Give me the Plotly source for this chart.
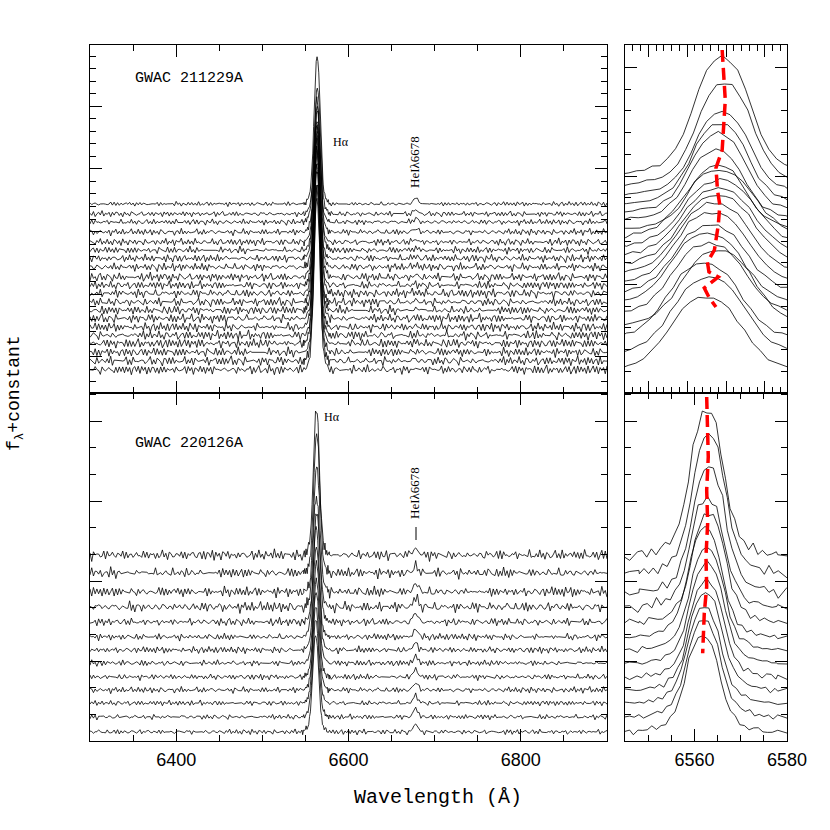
import plotly.graph_objects as go

# ---------------------------------------------------------------- sampling
GRID_START, GRID_END, GRID_STEP = 6300, 6900, 2
LINE_OFFSETS = list(range(-15, 16))          # 1 A steps around H-alpha
HEI_WAVE = 6678
HEI_OFFSETS = [-6, -4, -2, 0, 2, 4, 6]
HEI_SHAPE = [0.1, 0.3, 0.7, 1.0, 0.7, 0.3, 0.1]

# normalised H-alpha profiles (at LINE_OFFSETS)
HA_NARROW = [0.0, 0.005, 0.012, 0.02, 0.03, 0.045, 0.06, 0.09, 0.14, 0.22, 0.34, 0.52, 0.73, 0.88, 0.97,
             1.0,
             0.97, 0.88, 0.73, 0.52, 0.34, 0.22, 0.14, 0.09, 0.06, 0.045, 0.03, 0.02, 0.012, 0.005, 0.0]
HA_WIDE = [0.0, 0.01, 0.02, 0.03, 0.05, 0.08, 0.12, 0.18, 0.27, 0.39, 0.54, 0.70, 0.84, 0.93, 0.98,
           1.0,
           0.98, 0.93, 0.84, 0.70, 0.54, 0.39, 0.27, 0.18, 0.12, 0.08, 0.05, 0.03, 0.02, 0.01, 0.0]

# continuum scatter, estimated by eye (relative units)
NOISE_A = [0.3, -0.5, 0.8, -0.2, 0.1, -0.9, 0.6, 0.2, -0.4, 0.7,
           -0.7, 0.0, 0.5, -0.3, 0.9, -0.6, 0.2, -0.1, 0.4, -0.8,
           0.6, -0.2, 0.3, 0.8, -0.5, 0.1, -0.7, 0.5, -0.1, 0.2,
           -0.6, 0.9, -0.3, 0.4, -0.9, 0.3, 0.0, 0.6, -0.4, 0.2,
           -0.5, 0.7, -0.2, 0.1, -0.8, 0.4, 0.6, -0.3, 0.2, -0.6,
           0.8, -0.1, 0.3, -0.7, 0.5, -0.4, 0.1, 0.7, -0.5, 0.2, -0.3]
NOISE_B = [-0.4, 0.2, 0.6, -0.3, -0.7, 0.4, 0.1, -0.5, 0.8, -0.2,
           0.3, -0.6, 0.0, 0.5, -0.8, 0.3, -0.1, 0.7, -0.4, 0.2,
           -0.3, 0.6, -0.7, 0.1, 0.4, -0.2, 0.9, -0.5, 0.2, -0.1,
           0.5, -0.6, 0.3, -0.4, 0.7, 0.0, -0.3, 0.4, -0.8, 0.6,
           -0.2, 0.1, -0.5, 0.3, 0.8, -0.6, 0.2]

# ---------------------------------------------------------------- GWAC 211229A, full range (top to bottom)
TL_LEVEL = [17.2, 16.4, 15.75, 14.95, 14.15, 13.5, 12.85, 12.15, 11.35, 10.7,
            10.05, 9.35, 8.7, 8.05, 7.35, 6.7, 6.05, 5.35, 4.65, 3.95]
TL_PEAK = [11.8, 10.1, 9.8, 9.7, 9.7, 11.5, 10.6, 10.9, 12.2, 11.5,
           12.6, 12.2, 12.7, 12.6, 14.5, 13.2, 14.3, 13.4, 13.7, 13.6]
TL_CENTRE = [6563.5, 6563.8, 6563.2, 6563.6, 6563.4, 6563.9, 6563.1, 6563.5, 6563.7, 6563.3,
             6563.6, 6563.0, 6563.4, 6563.8, 6563.2, 6563.5, 6563.1, 6563.6, 6563.3, 6563.4]
TL_HEI = [0.5, 0.35, 0.3, 0.3, 0.25, 0.2, 0.2, 0.15, 0.15, 0.1,
          0.1, 0.1, 0.1, 0.1, 0.1, 0.1, 0.1, 0.1, 0.1, 0.1]
TL_NOISE = [0.13, 0.15, 0.16, 0.18, 0.19, 0.2, 0.21, 0.22, 0.23, 0.23,
            0.24, 0.24, 0.25, 0.25, 0.25, 0.26, 0.26, 0.26, 0.26, 0.26]
TL_SHIFT = [0, 7, 13, 22, 31, 5, 18, 27, 40, 11, 3, 35, 24, 16, 9, 44, 29, 38, 2, 20]

# ---------------------------------------------------------------- GWAC 211229A, H-alpha zoom
TR_LEVEL = [10.05, 9.54, 9.08, 8.66, 8.29, 7.93, 7.51, 7.14, 6.73, 6.31,
            5.90, 5.44, 4.98, 4.52, 4.06, 3.55, 3.04, 2.44, 1.75, 0.97]
TR_PEAK = [5.44, 4.75, 3.87, 3.78, 3.69, 3.27, 3.0, 3.13, 3.09, 3.13,
           3.23, 3.32, 3.36, 3.23, 3.32, 3.36, 3.55, 3.55, 3.59, 3.46]
TR_CENTRE = [6564.5, 6564.8, 6564.5, 6564.2, 6564.0, 6563.7, 6563.9, 6564.1, 6564.2, 6564.0,
             6563.9, 6563.5, 6563.2, 6563.0, 6562.6, 6562.8, 6564.0, 6562.2, 6562.8, 6562.4]
TR_WIDE = [0, 0, 0, 0, 0, 0, 0, 1, 1, 1, 1, 1, 1, 1, 1, 1, 1, 1, 1, 1]
TR_SHIFT = [3, 17, 8, 29, 12, 41, 6, 23, 35, 14, 1, 27, 19, 45, 10, 33, 4, 38, 21, 15]
TR_RED_X = [6564.5, 6564.9, 6564.5, 6563.7, 6563.9, 6564.2, 6564.0, 6563.5, 6562.6, 6562.8,
            6564.0, 6562.2, 6562.8, 6563.7]
TR_RED_Y = [15.81, 13.50, 11.20, 10.37, 9.35, 8.66, 7.74, 6.59, 6.04, 5.58,
            5.35, 4.84, 4.42, 3.96]

# ---------------------------------------------------------------- GWAC 220126A (top to bottom)
BL_LEVEL = [6.97, 6.30, 5.59, 5.02, 4.46, 3.90, 3.41, 2.92, 2.40, 1.91, 1.42, 0.90, 0.34]
BL_PEAK = [5.44, 5.21, 4.69, 4.12, 4.09, 4.12, 3.86, 3.79, 3.64, 3.67, 3.60, 3.64, 3.64]
BL_CENTRE = [6562.7, 6563.1, 6563.1, 6562.8, 6563.1, 6562.3, 6562.7, 6562.7, 6562.6, 6562.4,
             6562.1, 6562.0, 6561.8]
BL_HEI = [0.3, 0.3, 0.35, 0.4, 0.35, 0.3, 0.3, 0.25, 0.3, 0.3, 0.3, 0.35, 0.3]
BL_NOISE = [0.14, 0.14, 0.14, 0.14, 0.1, 0.09, 0.09, 0.08, 0.08, 0.08, 0.07, 0.07, 0.07]
BL_SHIFT = [4, 19, 33, 8, 26, 14, 42, 1, 37, 22, 11, 30, 17]
BR_RED_X = [6562.65, 6562.99, 6562.65, 6562.86, 6562.49, 6562.65, 6562.13, 6561.78]
BR_RED_Y = [12.90, 10.66, 9.41, 8.17, 6.91, 5.79, 4.80, 3.29]


def scatter_at(i, shift):
    return NOISE_A[(i + shift) % len(NOISE_A)] + NOISE_B[(i + 2 * shift + 5) % len(NOISE_B)]


def full_spectrum(level, peak, centre, hei, amp, shift, shape):
    pts = {}
    for w in range(GRID_START, GRID_END + 1, GRID_STEP):
        if abs(w - centre) > 15:
            extra = 0.0
            if w - HEI_WAVE in HEI_OFFSETS:
                extra = hei * HEI_SHAPE[HEI_OFFSETS.index(w - HEI_WAVE)]
            pts[w] = extra
    for off, s in zip(LINE_OFFSETS, shape):
        pts[centre + off] = peak * s
    xs = sorted(pts)
    ys = [level + pts[w] + amp * scatter_at(i, shift) for i, w in enumerate(xs)]
    return xs, ys


def zoom_profile(level, peak, centre, amp, shift, shape):
    xs = [centre + off for off in LINE_OFFSETS]
    ys = [level + peak * s + amp * scatter_at(i, shift) for i, s in enumerate(shape)]
    return xs, ys


LINE = dict(color="black", width=0.8)
RED = dict(color="red", width=3.5, dash="12px,6px")
fig = go.Figure()

for j in range(len(TL_LEVEL)):
    xs, ys = full_spectrum(TL_LEVEL[j], TL_PEAK[j], TL_CENTRE[j], TL_HEI[j], TL_NOISE[j], TL_SHIFT[j], HA_NARROW)
    fig.add_trace(go.Scatter(x=xs, y=ys, mode="lines", line=LINE, xaxis="x", yaxis="y", hoverinfo="skip"))

for j in range(len(TR_LEVEL)):
    shape = HA_WIDE if TR_WIDE[j] else HA_NARROW
    xs, ys = zoom_profile(TR_LEVEL[j], TR_PEAK[j], TR_CENTRE[j], 0.06, TR_SHIFT[j], shape)
    fig.add_trace(go.Scatter(x=xs, y=ys, mode="lines", line=LINE, xaxis="x2", yaxis="y2", hoverinfo="skip"))
fig.add_trace(go.Scatter(x=TR_RED_X, y=TR_RED_Y, mode="lines", xaxis="x2", yaxis="y2", line=RED))

for j in range(len(BL_LEVEL)):
    xs, ys = full_spectrum(BL_LEVEL[j], BL_PEAK[j], BL_CENTRE[j], BL_HEI[j], BL_NOISE[j], BL_SHIFT[j], HA_NARROW)
    fig.add_trace(go.Scatter(x=xs, y=ys, mode="lines", line=LINE, xaxis="x3", yaxis="y3", hoverinfo="skip"))
    fig.add_trace(go.Scatter(x=xs, y=ys, mode="lines", line=LINE, xaxis="x4", yaxis="y4", hoverinfo="skip"))
fig.add_trace(go.Scatter(x=BR_RED_X, y=BR_RED_Y, mode="lines", xaxis="x4", yaxis="y4", line=RED))

W = H = 830.0
MAIN_X = [90 / W, 607 / W]
ZOOM_X = [625 / W, 787 / W]
TOP_Y = [1 - 393 / H, 1 - 45 / H]
BOT_Y = [1 - 741 / H, 1 - 393 / H]


def ax(domain, anchor, rng, tick0, dtick, mdtick, labels=False, tlen=12, mlen=6):
    return dict(domain=domain, anchor=anchor, range=rng, tickmode="linear", tick0=tick0, dtick=dtick,
                ticks="inside", ticklen=tlen, tickcolor="black", showline=True, linecolor="black",
                linewidth=1, mirror="allticks", showgrid=False, zeroline=False, ticklabelstandoff=2,
                showticklabels=labels, tickfont=dict(family="Liberation Sans, Arial", size=18, color="black"),
                minor=dict(tick0=tick0, dtick=mdtick, ticks="inside", ticklen=mlen, tickcolor="black",
                           showgrid=False))


fig.update_layout(
    width=830, height=830, margin=dict(l=0, r=0, t=0, b=0, autoexpand=False),
    paper_bgcolor="white", plot_bgcolor="white", showlegend=False,
    xaxis=ax(MAIN_X, "y", [6300, 6900], 6400, 200, 50),
    yaxis=ax(TOP_Y, "x", [2.1, 29.9], 0, 5, 1),
    xaxis2=ax(ZOOM_X, "y2", [6552, 6572.84], 6555, 5, 1),
    yaxis2=ax(TOP_Y, "x2", [0, 16.04], 0, 5, 1),
    xaxis3=ax(MAIN_X, "y3", [6300, 6900], 6400, 200, 50, labels=True),
    yaxis3=ax(BOT_Y, "x3", [0, 13.05], 0, 3, 1),
    xaxis4=ax(ZOOM_X, "y4", [6545, 6580], 6560, 20, 5, labels=True),
    yaxis4=ax(BOT_Y, "x4", [0, 13.05], 0, 3, 1),
)

MONO = "Liberation Mono, Courier New, monospace"
SERIF = "Liberation Serif, Times New Roman, serif"


def note(text, px, py, size, family, angle=0, xanchor="center"):
    fig.add_annotation(text=text, x=px / W, y=1 - py / H, xref="paper", yref="paper", showarrow=False,
                       textangle=angle, xanchor=xanchor, yanchor="middle",
                       font=dict(family=family, size=size, color="black"))


note("GWAC 211229A", 133, 78, 15, MONO, xanchor="left")
note("GWAC 220126A", 133, 443, 15, MONO, xanchor="left")
note("Hα", 331, 142, 12, SERIF, xanchor="left")
note("Hα", 322, 417, 12, SERIF, xanchor="left")
note("HeIλ6678", 414, 162, 13, SERIF, angle=-90)
note("HeIλ6678", 414, 493, 13, SERIF, angle=-90)
note("Wavelength (Å)", 438, 797, 20, MONO)
note("f<sub>λ</sub>+constant", 15, 393, 18, MONO, angle=-90)

fig.add_shape(type="line", xref="paper", yref="paper", x0=416 / W, x1=416 / W,
              y0=1 - 527 / H, y1=1 - 540 / H, line=dict(color="black", width=1))

fig.write_html("out.html", config={"responsive": False, "displayModeBar": False},
               post_script="document.body.style.margin='0';document.body.style.overflow='hidden';"
                           "Plotly.relayout(document.getElementById('{plot_id}'),{width:830,height:830});")
